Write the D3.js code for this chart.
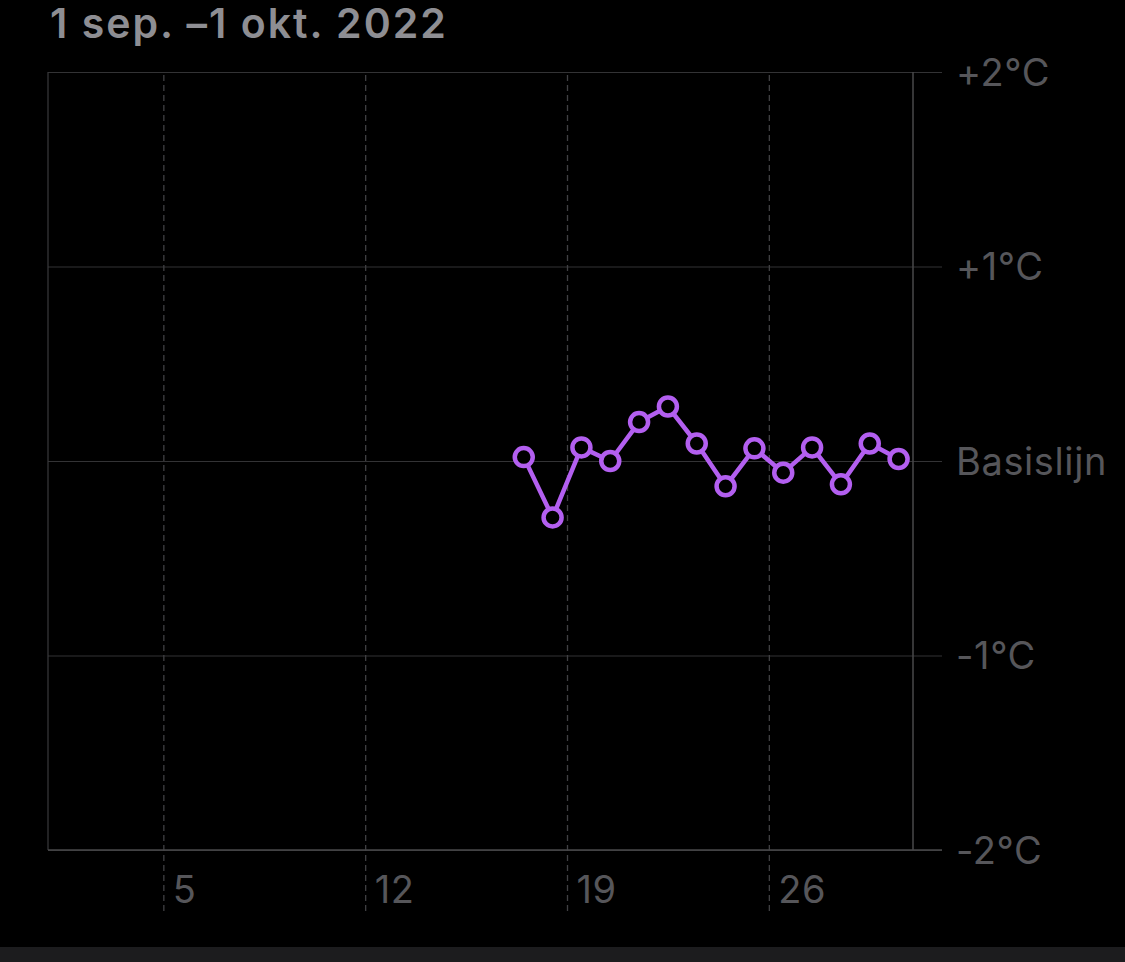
<!DOCTYPE html>
<html>
<head>
<meta charset="utf-8">
<script src="https://cdn.jsdelivr.net/npm/d3@7"></script>
<style>
  html, body { margin: 0; padding: 0; background: #000; }
  svg { display: block; }
</style>
</head>
<body>
<svg id="chart" width="1125" height="962"></svg>
<script>
const titleText = "1 sep. \u20131 okt. 2022";
const dayDomain = [1, 31];
const days = [17, 18, 19, 20, 21, 22, 23, 24, 25, 26, 27, 28, 29, 30];
const values = [0.02, -0.29, 0.07, 0.00, 0.20, 0.28, 0.09, -0.13, 0.065, -0.06, 0.07, -0.12, 0.09, 0.01];
const xTickDays = [5, 12, 19, 26];
const xTickLabels = ["5", "12", "19", "26"];
const yTicks = [2, 1, 0, -1, -2];
const yTickLabels = ["+2\u00B0C", "+1\u00B0C", "Basislijn", "-1\u00B0C", "-2\u00B0C"];

(function () {
const svg = d3.select("#chart");
const W = 1125, H = 962;
const pLeft = 48, pRight = 913, pTop = 72, pBottom = 850, tickEnd = 942, vEnd = 911;
const fontFam = "Inter, 'Noto Sans', sans-serif";
const labelColor = "#56565a";

svg.append("rect").attr("width", W).attr("height", H).attr("fill", "#000");
svg.append("rect").attr("x", 0).attr("y", 947).attr("width", W).attr("height", H - 947).attr("fill", "#1c1c1e");

const x = d3.scaleLinear().domain(dayDomain).range([pLeft, pRight]);
const y = d3.scaleLinear().domain([-2, 2]).range([pBottom, pTop]);

// title
svg.append("text")
  .attr("x", 50).attr("y", 38)
  .attr("font-family", fontFam).attr("font-size", 41).attr("font-weight", 600)
  .attr("letter-spacing", 2.0)
  .attr("fill", "#8e8e93")
  .text(titleText);

// horizontal grid + right labels
const yAxis = d3.axisRight(y)
  .tickValues(yTicks)
  .tickSize(-(tickEnd - pLeft))
  .tickPadding(14)
  .tickFormat((d) => yTickLabels[yTicks.indexOf(d)]);
const gy = svg.append("g").attr("transform", `translate(${tickEnd},0)`).call(yAxis);
gy.select(".domain").remove();
gy.selectAll(".tick line").attr("stroke", "#333335").attr("stroke-width", 1.2);
gy.selectAll(".tick text")
  .attr("font-family", fontFam).attr("font-size", 38).attr("fill", labelColor)
  .attr("letter-spacing", 0.6)
  .attr("dy", "0.35em");

// vertical dashed grid + bottom labels
const xAxis = d3.axisBottom(x)
  .tickValues(xTickDays)
  .tickSize(-(vEnd - pTop))
  .tickFormat((d) => xTickLabels[xTickDays.indexOf(d)]);
const gx = svg.append("g").attr("transform", `translate(0,${vEnd})`).call(xAxis);
gx.select(".domain").remove();
gx.selectAll(".tick line").attr("stroke", "#404043").attr("stroke-width", 1.3).attr("stroke-dasharray", "6,4");
gx.selectAll(".tick text")
  .attr("font-family", fontFam).attr("font-size", 38).attr("fill", labelColor)
  .attr("letter-spacing", 0.6)
  .attr("text-anchor", "start").attr("x", 9).attr("y", -8).attr("dy", null);

// plot borders
svg.append("line").attr("x1", pLeft).attr("x2", pLeft).attr("y1", pTop).attr("y2", pBottom)
  .attr("stroke", "#3a3a3c").attr("stroke-width", 1.2);
svg.append("line").attr("x1", pRight).attr("x2", pRight).attr("y1", pTop).attr("y2", pBottom)
  .attr("stroke", "#48484a").attr("stroke-width", 1.5);
svg.append("line").attr("x1", pLeft).attr("x2", tickEnd).attr("y1", pBottom).attr("y2", pBottom)
  .attr("stroke", "#48484a").attr("stroke-width", 1.5);

// data
const pts = days.map((d, i) => ({ day: d + 0.5, v: values[i] }));
const purple = "#b35ff0";
svg.append("path")
  .datum(pts)
  .attr("fill", "none").attr("stroke", purple).attr("stroke-width", 4.5)
  .attr("stroke-linejoin", "round")
  .attr("d", d3.line().x(d => x(d.day)).y(d => y(d.v)));
svg.append("g").selectAll("circle").data(pts).join("circle")
  .attr("cx", d => x(d.day)).attr("cy", d => y(d.v)).attr("r", 9)
  .attr("fill", "#000").attr("stroke", purple).attr("stroke-width", 4.5);
})();
</script>
</body>
</html>
